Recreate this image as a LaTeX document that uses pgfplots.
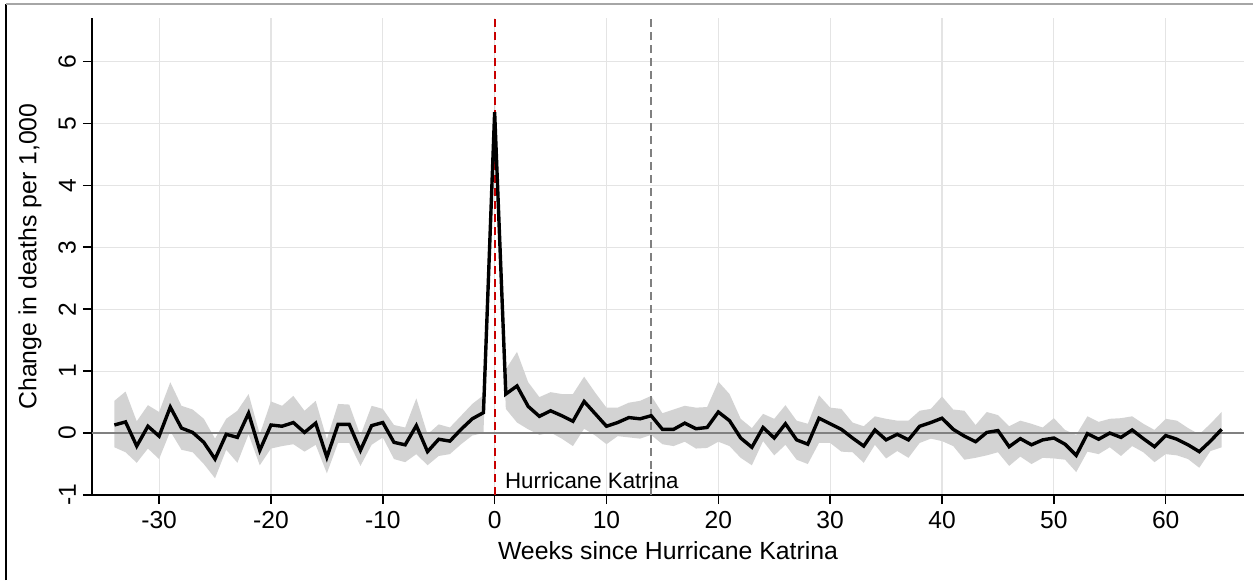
\documentclass[border=0pt]{standalone}
\usepackage{pgfplots}
\pgfplotsset{compat=1.18}
\usepackage{pgfplotstable}
\usepgfplotslibrary{fillbetween}
\usepackage{fontspec}
\setmainfont{Liberation Sans}
\definecolor{kred}{RGB}{200,0,0}
\definecolor{band}{RGB}{211,211,211}
\definecolor{gridc}{RGB}{228,228,228}
\definecolor{zeroc}{RGB}{128,128,128}

\pgfplotstableread{
w y lo hi
-34 0.13 -0.23 0.52
-33 0.18 -0.31 0.67
-32 -0.21 -0.48 0.19
-31 0.11 -0.25 0.45
-30 -0.05 -0.42 0.34
-29 0.42 0.03 0.82
-28 0.08 -0.27 0.44
-27 0.01 -0.31 0.38
-26 -0.15 -0.50 0.23
-25 -0.42 -0.73 -0.09
-24 -0.02 -0.27 0.23
-23 -0.07 -0.48 0.36
-22 0.32 -0.02 0.63
-21 -0.28 -0.52 -0.02
-20 0.13 -0.25 0.51
-19 0.11 -0.21 0.44
-18 0.17 -0.18 0.60
-17 0.01 -0.30 0.36
-16 0.16 -0.19 0.52
-15 -0.39 -0.65 -0.10
-14 0.14 -0.16 0.47
-13 0.14 -0.16 0.46
-12 -0.28 -0.53 -0.04
-11 0.12 -0.19 0.44
-10 0.17 -0.07 0.39
-9 -0.15 -0.42 0.13
-8 -0.19 -0.47 0.09
-7 0.12 -0.34 0.56
-6 -0.30 -0.52 -0.02
-5 -0.10 -0.37 0.14
-4 -0.13 -0.34 0.09
-3 0.06 -0.18 0.28
-2 0.23 -0.04 0.47
-1 0.33 0.00 0.61
0 5.18 4.90 5.45
1 0.63 0.39 1.03
2 0.76 0.17 1.31
3 0.43 0.06 0.82
4 0.27 -0.03 0.58
5 0.36 0.01 0.66
6 0.28 -0.09 0.63
7 0.19 -0.21 0.63
8 0.51 0.07 0.91
9 0.31 -0.04 0.65
10 0.11 -0.18 0.41
11 0.17 -0.05 0.41
12 0.25 -0.07 0.49
13 0.23 -0.09 0.52
14 0.28 -0.03 0.60
15 0.06 -0.18 0.32
16 0.06 -0.21 0.38
17 0.16 -0.14 0.44
18 0.07 -0.25 0.41
19 0.09 -0.24 0.42
20 0.34 -0.14 0.83
21 0.20 -0.21 0.63
22 -0.08 -0.40 0.23
23 -0.23 -0.52 0.08
24 0.09 -0.13 0.31
25 -0.08 -0.36 0.23
26 0.15 -0.19 0.45
27 -0.11 -0.43 0.20
28 -0.18 -0.50 0.15
29 0.24 -0.16 0.61
30 0.15 -0.16 0.41
31 0.06 -0.30 0.39
32 -0.08 -0.31 0.17
33 -0.21 -0.48 0.11
34 0.05 -0.19 0.27
35 -0.11 -0.41 0.23
36 -0.02 -0.29 0.20
37 -0.11 -0.40 0.20
38 0.11 -0.16 0.36
39 0.17 -0.09 0.39
40 0.24 -0.13 0.59
41 0.06 -0.21 0.38
42 -0.05 -0.43 0.36
43 -0.14 -0.40 0.13
44 0.01 -0.36 0.34
45 0.04 -0.31 0.29
46 -0.22 -0.53 0.11
47 -0.09 -0.38 0.20
48 -0.19 -0.50 0.15
49 -0.11 -0.40 0.09
50 -0.08 -0.41 0.24
51 -0.18 -0.43 0.05
52 -0.36 -0.63 -0.03
53 -0.01 -0.30 0.27
54 -0.10 -0.34 0.18
55 0.00 -0.23 0.23
56 -0.07 -0.37 0.24
57 0.05 -0.21 0.27
58 -0.09 -0.31 0.15
59 -0.22 -0.47 0.05
60 -0.04 -0.34 0.23
61 -0.10 -0.36 0.20
62 -0.19 -0.42 0.08
63 -0.30 -0.56 -0.02
64 -0.13 -0.29 0.15
65 0.06 -0.23 0.34
}\datatable

\begin{document}
\begin{tikzpicture}
\begin{axis}[
  at={(0pt,0pt)}, anchor=south west,
  scale only axis, width=576pt, height=238.5pt,
  xmin=-36, xmax=67, ymin=-1, ymax=6.7,
  axis x line=bottom, axis y line=left,
  axis line style={-, black, line width=0.75pt},
  xtick={-30,-20,...,60},
  xticklabels={-30,-20,-10,0,10,20,30,40,50,60},
  ytick={-1,0,...,6},
  yticklabels={-1,0,1,2,3,4,5,6},
  grid=major, major grid style={gridc, line width=0.6pt},
  tick align=outside, major tick length=4.5pt,
  tick style={black, line width=0.75pt},
  tick label style={font=\fontsize{12.3}{14}\selectfont},
  yticklabel style={rotate=90, anchor=south},
  every axis x label/.style={at={([yshift=-28pt]axis description cs:0.5,0)}, anchor=center, font=\fontsize{12.4}{15}\selectfont},
  every axis y label/.style={at={([xshift=-31pt]axis description cs:0,0.5)}, rotate=90, anchor=center, font=\fontsize{12.4}{15}\selectfont},
  xlabel={Weeks since Hurricane Katrina},
  ylabel={Change in deaths per 1,000},
]
\addplot[name path=hi, draw=none, forget plot] table[x=w, y=hi] {\datatable};
\addplot[name path=lo, draw=none, forget plot] table[x=w, y=lo] {\datatable};
\addplot[band, draw=none] fill between[of=hi and lo];
\addplot[zeroc, line width=1pt] coordinates {(-36,0) (67,0)};
\addplot[kred, line width=1pt, dash pattern=on 4pt off 2.5pt] coordinates {(0,-1) (0,6.7)};
\addplot[zeroc, line width=1pt, dash pattern=on 4pt off 2.5pt] coordinates {(14,-1) (14,6.7)};
\addplot[black, line width=1.7pt] table[x=w, y=y] {\datatable};
\node[anchor=west, inner sep=0pt, font=\fontsize{11.15}{13}\selectfont] at (axis cs:0.9,-0.76) {Hurricane Katrina};
\end{axis}
\draw[black, line width=0.8pt] (-43pt,-42.5pt) -- (-43pt,245.5pt);
\draw[gray!70, line width=0.8pt] (-43pt,245.5pt) -- (580.5pt,245.5pt);
\pgfresetboundingbox
\useasboundingbox (-46pt,-42.5pt) rectangle (580.5pt,247.5pt);
\end{tikzpicture}
\end{document}
